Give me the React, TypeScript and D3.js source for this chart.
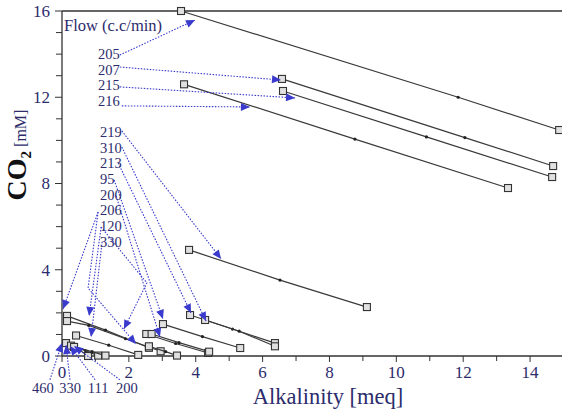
import React from "react";
import * as d3 from "d3";

// each run: start square, intermediate dots, end square  [alkalinity meq, CO2 mM]
const runs: [number, number][][] = [
  [[3.56, 16.0], [11.85, 12.0], [14.87, 10.48]],
  [[6.58, 12.85], [12.05, 10.13], [14.69, 8.81]],
  [[6.61, 12.29], [10.9, 10.16], [14.66, 8.3]],
  [[3.65, 12.6], [8.76, 10.06], [13.34, 7.79]],
  [[3.8, 4.92], [6.52, 3.52], [9.12, 2.27]],
  [[0.15, 1.86], [1.3, 1.2], [2.6, 0.38]],
  [[0.15, 1.62], [0.8, 1.42], [1.9, 0.8], [2.95, 0.22]],
  [[0.42, 0.95], [1.4, 0.5], [2.28, 0.05]],
  [[0.12, 0.6], [0.5, 0.3], [0.78, 0.0]],
  [[0.27, 0.48], [0.7, 0.25], [1.08, 0.02]],
  [[0.36, 0.42], [0.9, 0.2], [1.3, 0.02]],
  [[2.52, 1.02], [3.4, 0.58], [4.37, 0.14]],
  [[2.68, 1.02], [3.5, 0.62], [4.4, 0.2]],
  [[2.6, 0.45], [3.1, 0.2], [3.44, 0.02]],
  [[3.02, 1.48], [4.2, 0.9], [5.33, 0.37]],
  [[3.83, 1.9], [5.1, 1.25], [6.37, 0.6]],
  [[4.28, 1.67], [5.3, 1.15], [6.37, 0.45]],
];

// flow labels, anchored in data units
const flowLabels: { text: string; at: [number, number]; anchor?: string }[] = [
  { text: "205", at: [1.08, 14.0] },
  { text: "207", at: [1.08, 13.28] },
  { text: "215", at: [1.08, 12.57] },
  { text: "216", at: [1.08, 11.85] },
  { text: "219", at: [1.14, 10.39] },
  { text: "310", at: [1.14, 9.65] },
  { text: "213", at: [1.14, 8.95] },
  { text: "95", at: [1.14, 8.21] },
  { text: "200", at: [1.14, 7.47] },
  { text: "206", at: [1.14, 6.77] },
  { text: "120", at: [1.14, 6.03] },
  { text: "330", at: [1.14, 5.29] },
  { text: "460", at: [-0.57, -1.5], anchor: "middle" },
  { text: "330", at: [0.24, -1.5], anchor: "middle" },
  { text: "111", at: [1.08, -1.5], anchor: "middle" },
  { text: "200", at: [1.94, -1.5], anchor: "middle" },
];
const flowTitle = { text: "Flow (c.c/min)", at: [0.06, 15.35] as [number, number] };

// dotted arrows, last point is the tip
const arrows: [number, number][][] = [
  [[1.73, 13.96], [3.98, 15.58]],
  [[1.73, 13.4], [6.55, 12.8]],
  [[1.73, 12.48], [6.97, 11.97]],
  [[1.79, 11.6], [5.62, 11.55]],
  [[1.79, 10.44], [4.76, 4.5]],
  [[1.79, 9.69], [4.31, 1.62]],
  [[1.68, 8.95], [3.86, 1.99]],
  [[1.56, 8.16], [3.02, 1.72]],
  [[1.62, 7.42], [2.93, 0.88]],
  [[1.08, 6.68], [0.03, 2.18]],
  [[1.08, 6.68], [0.78, 3.15], [2.21, 0.56]],
  [[1.17, 5.98], [0.81, 1.86]],
  [[1.17, 5.98], [2.54, 3.39], [1.85, 1.25]],
  [[1.2, 5.29], [0.87, 0.88]],
  [[-0.36, -1.1], [0.0, 0.6]],
  [[0.24, -1.1], [0.12, 0.51]],
  [[0.99, -1.1], [0.24, 0.46]],
  [[1.73, -1.1], [0.36, 0.46]],
];

const xTicks = [0, 2, 4, 6, 8, 10, 12, 14];
const xMinor = [1, 3, 5, 7, 9, 11, 13, 15];
const yTicks = [0, 4, 8, 12, 16];
const yMinor = [1, 2, 3, 5, 6, 7, 9, 10, 11, 13, 14, 15];

const W = 562;
const H = 412;
const serif = "'Liberation Serif', 'Times New Roman', 'DejaVu Serif', serif";
const navy = "#2c2c6c";
const blue = "#3a3acc";

export default function App() {
  const x = d3.scaleLinear().domain([0, 15]).range([62, 563.5]);
  const y = d3.scaleLinear().domain([0, 16]).range([356, 11]);
  const line = d3
    .line<[number, number]>()
    .x((d) => x(d[0]))
    .y((d) => y(d[1]));

  const arrowHead = (pts: [number, number][]) => {
    const a = pts[pts.length - 2];
    const b = pts[pts.length - 1];
    const x1 = x(a[0]), y1 = y(a[1]), x2 = x(b[0]), y2 = y(b[1]);
    const ang = Math.atan2(y2 - y1, x2 - x1);
    const len = 9, half = 4;
    const bx = x2 - len * Math.cos(ang), by = y2 - len * Math.sin(ang);
    const px = -Math.sin(ang) * half, py = Math.cos(ang) * half;
    return `M${x2},${y2}L${bx + px},${by + py}L${bx - px},${by - py}Z`;
  };

  return (
    <svg
      width={W}
      height={H}
      style={{ position: "fixed", left: 0, top: 0, background: "#fff", fontFamily: serif }}
    >
      {/* frame */}
      <line x1={62} x2={W} y1={y(16)} y2={y(16)} stroke="#333" strokeWidth={1.3} />
      <line x1={62} x2={62} y1={y(16)} y2={y(0)} stroke="#333" strokeWidth={1.3} />
      <line x1={62} x2={W} y1={y(0)} y2={y(0)} stroke="#333" strokeWidth={1.3} />

      {yTicks.map((t) => (
        <g key={"y" + t}>
          <line x1={55} x2={62} y1={y(t)} y2={y(t)} stroke="#333" />
          <text x={50} y={y(t)} dy="0.35em" textAnchor="end" fontSize={17} fill={navy}>
            {t}
          </text>
        </g>
      ))}
      {yMinor.map((t) => (
        <line key={"ym" + t} x1={56} x2={62} y1={y(t)} y2={y(t)} stroke="#333" />
      ))}
      {xTicks.map((t) => (
        <g key={"x" + t}>
          <line x1={x(t)} x2={x(t)} y1={y(0)} y2={y(0) + 6} stroke="#333" />
          <text x={x(t)} y={y(0) + 22} textAnchor="middle" fontSize={17} fill={navy}>
            {t}
          </text>
        </g>
      ))}
      {xMinor.map((t) => (
        <line key={"xm" + t} x1={x(t)} x2={x(t)} y1={y(0)} y2={y(0) + 5} stroke="#333" />
      ))}

      <text x={328} y={404} textAnchor="middle" fontSize={22.5} fill={navy}>
        Alkalinity [meq]
      </text>
      <text transform="translate(26,155) rotate(-90)" textAnchor="middle">
        <tspan fontSize={28} fontWeight="bold" fill="#111">CO</tspan>
        <tspan fontSize={15} fontWeight="bold" fill="#111" dy={5}>2</tspan>
        <tspan fontSize={16} fill={navy} dy={-5}> [mM]</tspan>
      </text>

      {/* runs */}
      {runs.map((r, i) => (
        <g key={"r" + i}>
          <path d={line(r) ?? ""} fill="none" stroke="#3a3a3a" strokeWidth={1.2} />
          {r.slice(1, -1).map((p, j) => (
            <circle key={j} cx={x(p[0])} cy={y(p[1])} r={1.6} fill="#222" />
          ))}
          {[r[0], r[r.length - 1]].map((p, j) => (
            <rect
              key={"s" + j}
              x={x(p[0]) - 3.5}
              y={y(p[1]) - 3.5}
              width={7}
              height={7}
              fill="#e0e0e0"
              stroke="#333"
              strokeWidth={1.1}
            />
          ))}
        </g>
      ))}

      {/* flow annotations */}
      {arrows.map((a, i) => (
        <g key={"a" + i}>
          <path d={line(a) ?? ""} fill="none" stroke={blue} strokeWidth={1.1} strokeDasharray="1.5,1.5" />
          <path d={arrowHead(a)} fill={blue} />
        </g>
      ))}
      <text
        x={x(flowTitle.at[0])}
        y={y(flowTitle.at[1])}
        dy="0.35em"
        fontSize={16.5}
        fill={navy}
      >
        {flowTitle.text}
      </text>
      {flowLabels.map((l, i) => (
        <text
          key={"l" + i}
          x={x(l.at[0])}
          y={y(l.at[1])}
          dy="0.35em"
          textAnchor={l.anchor ?? "start"}
          fontSize={14.5}
          fill={navy}
        >
          {l.text}
        </text>
      ))}
    </svg>
  );
}
